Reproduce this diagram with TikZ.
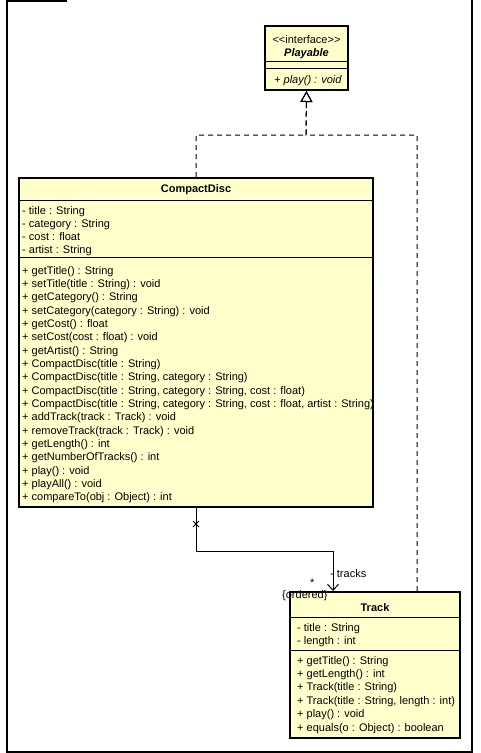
\documentclass[tikz,border=0pt]{standalone}
\usepackage{fontspec}
\setmainfont{Liberation Sans}
\usetikzlibrary{arrows.meta}
\definecolor{umlfill}{RGB}{255,255,204}
\begin{document}
\begin{tikzpicture}[x=1pt,y=-1pt,
  box/.style={draw=black,fill=umlfill,line width=2pt,rectangle,inner sep=0pt},
  txt/.style={inner sep=0pt,anchor=base west,font=\fontsize{11}{13}\selectfont},
  ctxt/.style={inner sep=0pt,anchor=base,font=\fontsize{11}{13}\selectfont},
  sep/.style={line width=1pt},
  realize/.style={line width=1pt,dash pattern=on 5pt off 4pt,-{Triangle[open,length=11pt,width=12pt,line width=1pt]}},
  assoc/.style={line width=1pt},
  frameline/.style={line width=1.5pt}]
\useasboundingbox (0,0) rectangle (481,753);
% frame
\draw[frameline] (67,1) -- (7,1) -- (7,752) -- (472,752) -- (472,0);
% boxes
\node[box,minimum width=83pt,minimum height=64pt] (playable) at (306.5,58) {};
\node[box,minimum width=354pt,minimum height=329pt] (cd) at (196,342.5) {};
\node[box,minimum width=170pt,minimum height=146pt] (track) at (375,665) {};
% separators
\draw[sep] (265,61) -- (348,61);
\draw[sep] (265,68) -- (348,68);
\draw[sep] (19,200) -- (373,200);
\draw[sep] (19,257.5) -- (373,257.5);
\draw[sep] (290,617.5) -- (460,617.5);
\draw[sep] (290,650) -- (460,650);
% Playable text
\node[ctxt] (pst) at (306.5,43) {{<}{<}interface{>}{>}};
\node[ctxt,font=\fontsize{11}{13}\selectfont\bfseries\itshape] (pname) at (306.5,56) {Playable};
\node[txt,font=\fontsize{11}{13}\selectfont\itshape] (pm1) at (274,83) {+ play() : void};
% CompactDisc text
\node[ctxt,font=\fontsize{11}{13}\selectfont\bfseries] (cdname) at (196,192.5) {CompactDisc};
\foreach \t [count=\i] in {{- title : String},{- category : String},{- cost : float},{- artist : String}}
  \node[txt] (cda\i) at (22,214.3+13.1*\i-13.1) {\t};
\foreach \t [count=\i] in {{+ getTitle() : String},{+ setTitle(title : String) : void},{+ getCategory() : String},{+ setCategory(category : String) : void},{+ getCost() : float},{+ setCost(cost : float) : void},{+ getArtist() : String},{+ CompactDisc(title : String)},{+ CompactDisc(title : String, category : String)},{+ CompactDisc(title : String, category : String, cost : float)},{+ CompactDisc(title : String, category : String, cost : float, artist : String)},{+ addTrack(track : Track) : void},{+ removeTrack(track : Track) : void},{+ getLength() : int},{+ getNumberOfTracks() : int},{+ play() : void},{+ playAll() : void},{+ compareTo(obj : Object) : int}}
  \node[txt] (cdm\i) at (22,274+13.35*\i-13.35) {\t};
% Track text
\node[ctxt,font=\fontsize{11}{13}\selectfont\bfseries] (trname) at (375,611) {Track};
\foreach \t [count=\i] in {{- title : String},{- length : int}}
  \node[txt] (tra\i) at (297,631+13.2*\i-13.2) {\t};
\foreach \t [count=\i] in {{+ getTitle() : String},{+ getLength() : int},{+ Track(title : String)},{+ Track(title : String, length : int)},{+ play() : void},{+ equals(o : Object) : boolean}}
  \node[txt] (trm\i) at (297,664+13.4*\i-13.4) {\t};
% realization connectors
\coordinate (join) at (306,135);
\draw[realize] (cd.north) -- (cd.north |- join) -- (join) -- (playable.south);
\draw[realize] (track.north -| 417,0) -- (417,135) -- (join) -- (playable.south);
% composition
\coordinate (bend1) at (196,551);
\coordinate (bend2) at (333,551);
\draw[assoc,-{Straight Barb[length=6pt,width=11pt,line width=1pt]}] (cd.south) -- (bend1) -- (bend2) -- (bend2 |- track.north);
\draw[line width=0.8pt] (193,521) -- (199,527) (193,527) -- (199,521);
\node[txt] (lblrole) at (330,577) {- tracks};
\node[txt] (lblmult) at (310,586) {*};
\node[txt] (lblord) at (282,598) {\{ordered\}};
\end{tikzpicture}
\end{document}
